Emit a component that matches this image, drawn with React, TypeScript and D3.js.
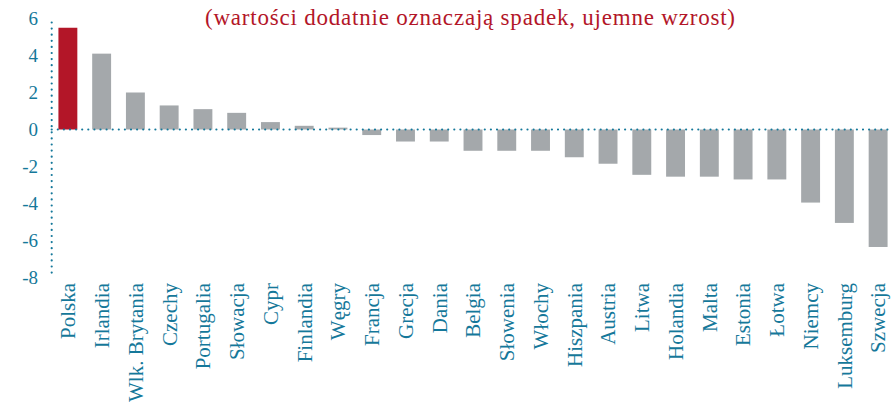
import React from "react";
import * as d3 from "d3";

const categories = [
  "Polska", "Irlandia", "Wlk. Brytania", "Czechy", "Portugalia", "Słowacja", "Cypr",
  "Finlandia", "Węgry", "Francja", "Grecja", "Dania", "Belgia", "Słowenia", "Włochy",
  "Hiszpania", "Austria", "Litwa", "Holandia", "Malta", "Estonia", "Łotwa", "Niemcy",
  "Luksemburg", "Szwecja",
];
const values = [
  5.5, 4.1, 2.0, 1.3, 1.1, 0.9, 0.4, 0.2, 0.1, -0.3, -0.65, -0.65, -1.15, -1.15, -1.15,
  -1.5, -1.85, -2.45, -2.55, -2.55, -2.7, -2.7, -3.95, -5.05, -6.35,
];
const yTicks = [6, 4, 2, 0, -2, -4, -6, -8];
const subtitle = "(wartości dodatnie oznaczają spadek, ujemne wzrost)";

const W = 892;
const H = 402;
const TEAL = "#15789a";
const RED = "#b31628";
const GREY = "#a4a8ab";
const FONT = "'Liberation Serif', serif";

export default function App() {
  const x = d3.scaleBand<string>().domain(categories).range([51, 895]).paddingInner(0.44).paddingOuter(0.22);
  const y = d3.scaleLinear().domain([-8, 6]).range([277.5, 18.5]);
  const y0 = y(0);

  return (
    <svg width={W} height={H} style={{ position: "absolute", left: 0, top: 0, background: "#fff" }}>
      <text x={470} y={25} textAnchor="middle" fill={RED} fontFamily={FONT} fontSize={23}
        textLength={530} lengthAdjust="spacing">{subtitle}</text>
      {categories.map((c, i) => {
        const v = values[i];
        return (
          <rect key={c} x={x(c)} width={x.bandwidth()} y={y(Math.max(0, v))}
            height={Math.abs(y(v) - y0)} fill={i === 0 ? RED : GREY} />
        );
      })}
      <line x1={51.7} x2={51.7} y1={y(6) + 4} y2={y(-8)} stroke={TEAL} strokeWidth={2.2}
        strokeLinecap="round" strokeDasharray="0 6.1" />
      <line x1={51.7} x2={W} y1={y0} y2={y0} stroke={TEAL} strokeWidth={2.2}
        strokeLinecap="round" strokeDasharray="0 6.1" />
      {yTicks.map((t) => (
        <text key={t} x={38} y={y(t)} dy="0.35em" textAnchor="end" fill={TEAL}
          fontFamily={FONT} fontSize={19}>{t}</text>
      ))}
      {categories.map((c) => (
        <text key={"l" + c} transform={`translate(${(x(c) as number) + x.bandwidth() / 2},283) rotate(-90)`}
          dy="0.35em" textAnchor="end" fill={TEAL} fontFamily={FONT} fontSize={21}>{c}</text>
      ))}
    </svg>
  );
}
